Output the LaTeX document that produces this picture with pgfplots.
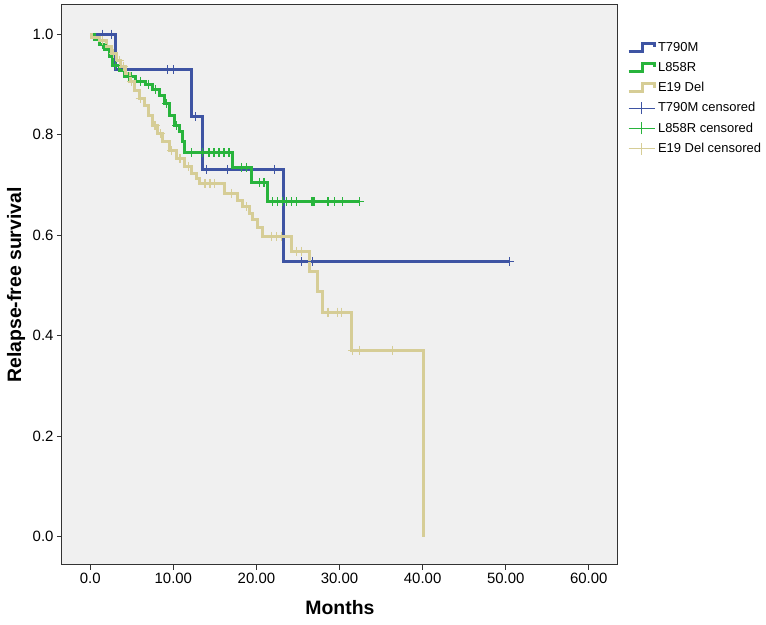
\documentclass[border=0pt]{standalone}
\usepackage{fontspec}
\setmainfont{Liberation Sans}
\usepackage{pgfplots}
\pgfplotsset{compat=1.18}
\definecolor{cT}{RGB}{62,84,163}
\definecolor{cL}{RGB}{40,180,60}
\definecolor{cE}{RGB}{214,205,150}
\definecolor{bg}{RGB}{240,240,240}
\pgfplotsset{
  steplegend/.style={legend image code/.code={\draw[#1, line width=3bp] (0bp,-4bp) -- (14bp,-4bp) -- (14bp,4bp) -- (26bp,4bp) -- (26bp,0bp);}},
  censlegend/.style={legend image code/.code={\draw[#1, line width=1bp] (0bp,0bp) -- (26bp,0bp); \draw[#1, line width=1bp] (13bp,-6bp) -- (13bp,6bp);}},
}
\begin{document}
\begin{tikzpicture}
\begin{axis}[
  scale only axis, width=556bp, height=560bp,
  xmin=-3.4, xmax=63.5, ymin=-0.056, ymax=1.058,
  axis background/.style={fill=bg},
  axis line style={draw=black!80, line width=1bp},
  xtick={0,10,20,30,40,50,60},
  xticklabels={0.0,10.00,20.00,30.00,40.00,50.00,60.00},
  ytick={0,0.2,0.4,0.6,0.8,1.0},
  yticklabels={0.0,0.2,0.4,0.6,0.8,1.0},
  tick align=outside, tick pos=left, major tick length=5bp,
  tick style={black!80, line width=0.8bp},
  ticklabel style={font=\fontsize{15}{17}\selectfont},
  /pgf/number format/assume math mode=true,
  xlabel={\bfseries Months}, ylabel={\bfseries Relapse-free survival},
  label style={font=\fontsize{19.5}{22}\selectfont},
  xlabel style={at={(axis description cs:0.5,0)}, yshift=-43bp, anchor=center},
  ylabel style={at={(axis description cs:0,0.5)}, yshift=46bp, anchor=center},
  legend style={at={(1,1)}, anchor=north west, xshift=6bp, yshift=-33bp,
    draw=none, fill=none, font=\fontsize{13}{15}\selectfont,
    row sep=5.5bp, cells={anchor=west}},
  legend cell align=left,
]
\addplot[const plot, draw=cT, line width=3bp, steplegend] coordinates {
(0,1.0)(3.0,0.929)(12.2,0.836)(13.5,0.731)(23.3,0.548)(50.5,0.548)};
\addlegendentry{T790M}
\addplot[const plot, draw=cL, line width=3bp, steplegend] coordinates {
(0,1.0)(0.5,0.99)(1.1,0.98)(1.7,0.97)(2.3,0.955)(2.7,0.938)(3.5,0.928)(4.1,0.916)
(5.5,0.906)(6.7,0.9)(7.5,0.89)(8.3,0.878)(8.9,0.862)(9.5,0.838)(10.1,0.818)
(10.7,0.806)(11.1,0.786)(11.3,0.764)(17.1,0.735)(19.4,0.705)(21.3,0.667)(32.4,0.667)};
\addlegendentry{L858R}
\addplot[const plot, draw=cE, line width=3bp, steplegend] coordinates {
(0,1.0)(0.2,0.994)(1.1,0.988)(1.9,0.976)(2.5,0.962)(3.1,0.948)(3.7,0.935)(4.3,0.922)
(4.7,0.906)(5.3,0.888)(5.9,0.872)(6.5,0.858)(7.0,0.838)(7.5,0.818)(8.1,0.802)
(8.7,0.786)(9.5,0.768)(10.4,0.752)(11.3,0.736)(12.2,0.722)(12.8,0.712)(13.1,0.703)
(16.1,0.683)(17.7,0.669)(18.3,0.657)(19.2,0.643)(19.5,0.632)(20.1,0.616)(20.7,0.597)
(24.2,0.568)(26.4,0.528)(27.4,0.487)(28.0,0.447)(31.4,0.371)(40.1,0.371)(40.1,0.0)};
\addlegendentry{E19 Del}
\addplot[only marks, mark=+, mark size=4.5bp, cT, mark options={line width=1.2bp}, censlegend] coordinates {
(1.5,1.0)(2.6,1.0)(9.3,0.929)(10.0,0.929)(12.7,0.836)(14.0,0.731)(16.5,0.731)
(22.2,0.731)(25.4,0.548)(26.7,0.548)(50.5,0.548)};
\addlegendentry{T790M censored}
\addplot[only marks, mark=+, mark size=4.5bp, cL, mark options={line width=1.2bp}, censlegend] coordinates {
(1.5,0.98)(3.0,0.938)(4.6,0.916)(5.0,0.916)(6.0,0.906)(7.0,0.9)(7.9,0.89)(9.2,0.862)
(10.4,0.818)(12.2,0.764)(13.5,0.764)(14.3,0.764)(14.9,0.764)(15.5,0.764)(16.1,0.764)
(16.7,0.764)(18.2,0.735)(18.8,0.735)(20.4,0.705)(20.9,0.705)(21.9,0.667)(22.5,0.667)
(23.1,0.667)(23.6,0.667)(24.2,0.667)(24.8,0.667)(26.6,0.667)(26.8,0.667)(27.0,0.667)
(28.6,0.667)(29.4,0.667)(30.4,0.667)(32.4,0.667)};
\addlegendentry{L858R censored}
\addplot[only marks, mark=+, mark size=4.5bp, cE, mark options={line width=1.2bp}, censlegend] coordinates {
(1.5,0.988)(2.8,0.962)(3.5,0.948)(4.0,0.935)(5.0,0.906)(6.0,0.872)(7.8,0.818)
(8.5,0.802)(9.8,0.768)(10.8,0.752)(11.8,0.736)(13.8,0.703)(14.4,0.703)(15.0,0.703)
(17.0,0.683)(18.8,0.657)(21.8,0.597)(22.4,0.597)(23.0,0.597)(24.8,0.568)(25.4,0.568)
(28.6,0.447)(29.8,0.447)(30.2,0.447)(31.6,0.371)(32.4,0.371)(36.4,0.371)};
\addlegendentry{E19 Del censored}
\end{axis}
\path ([xshift=-62bp,yshift=-60bp]current axis.south west) rectangle ([xshift=148bp,yshift=5bp]current axis.north east);
\end{tikzpicture}
\end{document}
